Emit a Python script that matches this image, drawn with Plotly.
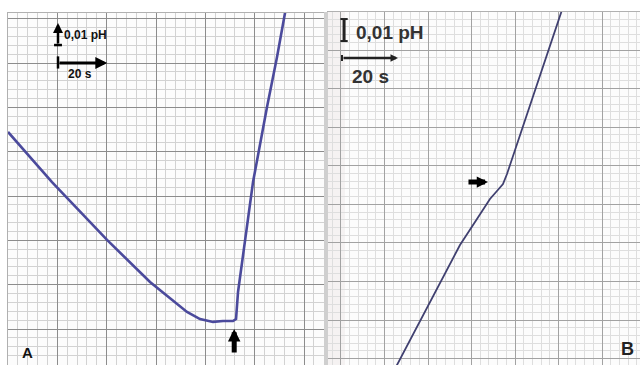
import plotly.graph_objects as go

# ---------------- data (time in s, pH offset) ----------------
# Panel A trace
a_time = [0.0, 17.84, 40.14, 57.57, 72.57, 77.84, 83.11, 87.17, 91.22, 92.44, 93.25, 99.33, 105.0, 109.06, 112.3, 112.9]
a_ph = [0.0889, 0.0663, 0.0402, 0.0212, 0.0077, 0.0045, 0.0032, 0.0036, 0.0036, 0.0045, 0.0167, 0.0663, 0.1002, 0.1227, 0.1426, 0.1462]
a_marker_time = 91.7
a_marker_ph = 0.0

# Panel B trace
b_time = [19.07, 20.0, 31.79, 42.5, 48.57, 53.21, 55.71, 57.86, 59.29, 78.57, 79.54]
b_ph = [-0.0227, -0.02045, 0.00818, 0.03409, 0.04591, 0.0550, 0.05864, 0.06182, 0.06636, 0.13955, 0.1432]
b_marker_time = 52.5
b_marker_ph = 0.0627

SCALE_PH = 0.01   # scale bar, pH
SCALE_S = 20      # scale bar, seconds

# grid (chart paper) spacing
a_xmajor, a_ymajor = 20.0, 0.02
b_xmajor, b_ymajor = 15.54, 0.01753

fig = go.Figure()
fig.add_trace(go.Scatter(x=a_time, y=a_ph, mode="lines",
                         line=dict(color="#4b4a9c", width=2.6),
                         xaxis="x", yaxis="y", showlegend=False, hoverinfo="skip"))
fig.add_trace(go.Scatter(x=b_time, y=b_ph, mode="lines",
                         line=dict(color="#404070", width=1.8),
                         xaxis="x2", yaxis="y2", showlegend=False, hoverinfo="skip"))

W, H = 640, 365

def axis(domain, rng, major, minor_n, gc, mgc, anchor):
    return dict(domain=domain, range=rng, showticklabels=False, ticks="",
                showgrid=True, dtick=major, tick0=0, gridcolor=gc, gridwidth=1,
                zeroline=False, showline=True, mirror=True, linecolor="#b0b0b0",
                linewidth=1, anchor=anchor, fixedrange=True,
                minor=dict(dtick=major / minor_n, tick0=0, showgrid=True,
                           gridcolor=mgc, gridwidth=1, ticks=""))

fig.update_layout(
    width=W, height=H, margin=dict(l=0, r=0, t=0, b=0),
    paper_bgcolor="white",
    plot_bgcolor="#fcfcfc",
    xaxis=axis([8 / W, 324 / W], [0, 128.1], a_xmajor, 5, "#8c8c8c", "#d2d2d2", "y"),
    yaxis=axis([0, 352 / H], [-0.01624, 0.14256], a_ymajor, 5, "#8c8c8c", "#d2d2d2", "x"),
    xaxis2=axis([328 / W, 1], [-4.64, 106.8], b_xmajor, 5, "#a2a2a2", "#dedede", "y2"),
    yaxis2=axis([0, 353 / H], [-0.02045, 0.14], b_ymajor, 5, "#a2a2a2", "#dedede", "x2"),
)

shapes = []
# gap between the two panels
shapes.append(dict(type="rect", xref="paper", yref="paper", x0=324 / W, x1=328 / W,
                   y0=0, y1=353 / H, fillcolor="#cfcfcf", line=dict(width=0), layer="above"))
# B panel faint tint
shapes.append(dict(type="rect", xref="paper", yref="paper", x0=328 / W, x1=345 / W,
                   y0=0, y1=353 / H, fillcolor="rgba(200,170,170,0.12)", line=dict(width=0), layer="below"))

# ---- Panel A scale bars ----
a_bar_t = 20.27
a_bar_ph0 = 0.1281
a_hbar_ph = 0.1200
cap_a = 1.6
shapes.append(dict(type="line", xref="x", yref="y", x0=a_bar_t - cap_a, x1=a_bar_t + cap_a,
                   y0=a_bar_ph0, y1=a_bar_ph0, line=dict(color="black", width=2.5)))
shapes.append(dict(type="line", xref="x", yref="y", x0=a_bar_t, x1=a_bar_t,
                   y0=a_hbar_ph - 0.0025, y1=a_hbar_ph + 0.0030, line=dict(color="black", width=2.5)))

# ---- Panel B scale bars ----
b_bar_t = 1.1
b_bar_ph0 = 0.1268
b_hbar_ph = 0.1191
cap_b = 1.3
for yy in (b_bar_ph0, b_bar_ph0 + SCALE_PH):
    shapes.append(dict(type="line", xref="x2", yref="y2", x0=b_bar_t - cap_b, x1=b_bar_t + cap_b,
                       y0=yy, y1=yy, line=dict(color="#222", width=2)))
shapes.append(dict(type="line", xref="x2", yref="y2", x0=b_bar_t, x1=b_bar_t,
                   y0=b_bar_ph0, y1=b_bar_ph0 + SCALE_PH, line=dict(color="#222", width=3)))
shapes.append(dict(type="line", xref="x2", yref="y2", x0=0.36, x1=0.36,
                   y0=b_hbar_ph - 0.0014, y1=b_hbar_ph + 0.0014, line=dict(color="#222", width=2)))
fig.update_layout(shapes=shapes)

anns = []
# A: vertical bar with up arrow
anns.append(dict(xref="x", yref="y", axref="x", ayref="y",
                 x=a_bar_t, y=a_bar_ph0 + SCALE_PH, ax=a_bar_t, ay=a_bar_ph0,
                 text="", showarrow=True, arrowhead=2, arrowwidth=2.5, arrowsize=0.8,
                 arrowcolor="black"))
anns.append(dict(xref="x", yref="y", x=21.8, y=0.1326, text="<b>0,01 pH</b>",
                 showarrow=False, xanchor="left", yanchor="middle",
                 font=dict(family="Liberation Sans, Arial", size=12, color="#111")))
# A: horizontal arrow
anns.append(dict(xref="x", yref="y", axref="x", ayref="y",
                 x=a_bar_t + SCALE_S, y=a_hbar_ph, ax=a_bar_t, ay=a_hbar_ph,
                 text="", showarrow=True, arrowhead=2, arrowwidth=3, arrowsize=0.8,
                 arrowcolor="black"))
anns.append(dict(xref="x", yref="y", x=29.2, y=0.1150, text="<b>20 s</b>",
                 showarrow=False, xanchor="center", yanchor="middle",
                 font=dict(family="Liberation Sans, Arial", size=12, color="#111")))
# A: event arrow
anns.append(dict(xref="x", yref="y", axref="x", ayref="y",
                 x=a_marker_time, y=a_marker_ph, ax=a_marker_time, ay=a_marker_ph - 0.0113,
                 text="", showarrow=True, arrowhead=2, arrowwidth=5, arrowsize=0.5,
                 arrowcolor="black"))
# B: scale texts
anns.append(dict(xref="x2", yref="y2", x=4.8, y=0.1305, text="<b>0,01 pH</b>",
                 showarrow=False, xanchor="left", yanchor="middle",
                 font=dict(family="Liberation Sans, Arial", size=19, color="#333")))
anns.append(dict(xref="x2", yref="y2", axref="x2", ayref="y2",
                 x=0.36 + SCALE_S, y=b_hbar_ph, ax=0.36, ay=b_hbar_ph,
                 text="", showarrow=True, arrowhead=2, arrowwidth=2.5, arrowsize=0.6,
                 arrowcolor="#222"))
anns.append(dict(xref="x2", yref="y2", x=10.7, y=0.1105, text="<b>20 s</b>",
                 showarrow=False, xanchor="center", yanchor="middle",
                 font=dict(family="Liberation Sans, Arial", size=19, color="#333")))
# B: event arrow
anns.append(dict(xref="x2", yref="y2", axref="x2", ayref="y2",
                 x=b_marker_time, y=b_marker_ph, ax=b_marker_time - 7.5, ay=b_marker_ph,
                 text="", showarrow=True, arrowhead=2, arrowwidth=5, arrowsize=0.45,
                 arrowcolor="black"))
# panel letters
anns.append(dict(xref="paper", yref="paper", x=27 / W, y=1 - 352 / H, text="<b>A</b>",
                 showarrow=False, xanchor="center", yanchor="middle",
                 font=dict(family="Liberation Sans, Arial", size=15, color="#111")))
anns.append(dict(xref="paper", yref="paper", x=627 / W, y=1 - 349 / H, text="<b>B</b>",
                 showarrow=False, xanchor="center", yanchor="middle",
                 font=dict(family="Liberation Sans, Arial", size=18, color="#222")))
fig.update_layout(annotations=anns)

fig.write_html("out.html", config={"displayModeBar": False},
               post_script="document.body.style.margin='0px';document.body.style.overflow='hidden';")
